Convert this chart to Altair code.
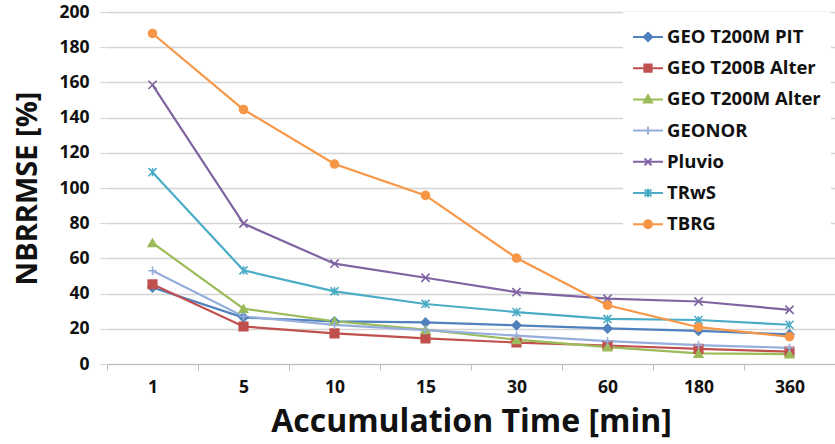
import altair as alt
import pandas as pd

# ---- data ----
times = ["1", "5", "10", "15", "30", "60", "180", "360"]
series = ["GEO T200M PIT", "GEO T200B Alter", "GEO T200M Alter", "GEONOR", "Pluvio", "TRwS", "TBRG"]

geo_t200m_pit = [43.5, 26.4, 24.2, 23.6, 22.0, 20.2, 18.8, 16.8]
geo_t200b_alter = [45.3, 21.3, 17.4, 14.6, 12.2, 10.5, 8.6, 7.0]
geo_t200m_alter = [68.8, 31.4, 24.3, 19.5, 13.8, 9.6, 6.0, 5.6]
geonor = [53.0, 27.0, 22.2, 19.3, 16.1, 13.0, 10.7, 9.2]
pluvio = [158.6, 79.8, 57.0, 49.0, 40.8, 37.1, 35.5, 30.8]
trws = [109.0, 53.2, 41.3, 34.1, 29.5, 25.6, 25.0, 22.3]
tbrg = [187.8, 144.6, 113.6, 95.8, 60.2, 33.4, 20.9, 15.5]

values = [geo_t200m_pit, geo_t200b_alter, geo_t200m_alter, geonor, pluvio, trws, tbrg]

colors = ["#4F81BD", "#C0504D", "#9BBB59", "#95AEDC", "#8064A2", "#4BACC6", "#F79646"]

# marker shapes on the plot
marker_shapes = [
    "diamond",
    "square",
    "triangle-up",
    "M-1,0L1,0M0,-1L0,1",
    "M-1,-1L1,1M-1,1L1,-1",
    "M-1,-1L1,1M-1,1L1,-1M0,-1L0,1",
    "circle",
]
marker_sizes = [75, 64, 75, 70, 90, 90, 85]

# legend symbols: a line with the marker on it
legend_shapes = [
    "M-1,0L1,0M0,-0.28L0.28,0L0,0.28L-0.28,0Z",
    "M-1,0L1,0M-0.24,-0.24L0.24,-0.24L0.24,0.24L-0.24,0.24Z",
    "M-1,0L1,0M0,-0.28L0.28,0.2L-0.28,0.2Z",
    "M-1,0L1,0M0,-0.26L0,0.26",
    "M-1,0L1,0M-0.23,-0.23L0.23,0.23M-0.23,0.23L0.23,-0.23",
    "M-1,0L1,0M-0.23,-0.23L0.23,0.23M-0.23,0.23L0.23,-0.23M0,-0.28L0,0.28",
    "M-1,0L1,0M0.27,0A0.27,0.27 0 1,1 -0.27,0A0.27,0.27 0 1,1 0.27,0Z",
]

rows = []
for name, vals in zip(series, values):
    for t, v in zip(times, vals):
        rows.append({"series": name, "time": t, "value": v})
df = pd.DataFrame(rows)

FONT = "Open Sans"
GRID = "#D4D4D4"
TEXT = "#111111"

x_enc = alt.X(
    "time:N",
    sort=times,
    scale=alt.Scale(type="band", paddingInner=0, paddingOuter=0),
    axis=alt.Axis(
        title="Accumulation Time [min]",
        titleFont=FONT,
        titleFontSize=32,
        titleFontWeight="bold",
        titleColor=TEXT,
        titlePadding=11,
        labelFont=FONT,
        labelFontSize=17.5,
        labelFontWeight="bold",
        labelColor=TEXT,
        labelAngle=0,
        labelPadding=8,
        domain=True,
        domainColor="#BFBFBF",
        domainWidth=1.2,
        ticks=True,
        tickBand="extent",
        tickColor="#BFBFBF",
        tickSize=6,
        grid=False,
    ),
)

y_enc = alt.Y(
    "value:Q",
    scale=alt.Scale(domain=[0, 200], nice=False, zero=True),
    axis=alt.Axis(
        values=list(range(0, 201, 20)),
        title="NBRRMSE [%]",
        titleFont=FONT,
        titleFontSize=29,
        titleFontWeight="bold",
        titleColor=TEXT,
        titlePadding=16,
        labelFont=FONT,
        labelFontSize=17.5,
        labelFontWeight="bold",
        labelColor=TEXT,
        labelPadding=11,
        domain=False,
        ticks=True,
        tickColor=GRID,
        tickSize=7,
        grid=True,
        gridColor=GRID,
        gridWidth=1.3,
    ),
)

base = alt.Chart(df).encode(x=x_enc, y=y_enc)

lines = base.mark_line(strokeWidth=2.2, interpolate="linear").encode(
    color=alt.Color("series:N", scale=alt.Scale(domain=series, range=colors), legend=None)
)

points = base.mark_point(filled=True, strokeWidth=1.6, opacity=1).encode(
    color=alt.Color("series:N", scale=alt.Scale(domain=series, range=colors), legend=None),
    stroke=alt.Stroke("series:N", scale=alt.Scale(domain=series, range=colors), legend=None),
    shape=alt.Shape("series:N", scale=alt.Scale(domain=series, range=marker_shapes), legend=None),
    size=alt.Size("series:N", scale=alt.Scale(domain=series, range=marker_sizes), legend=None),
)

legend_props = dict(
    title=None,
    orient="none",
    legendX=516,
    legendY=0,
    padding=9,
    fillColor="white",
    strokeColor="white",
    rowPadding=5.2,
    symbolSize=900,
    symbolStrokeWidth=2,
    labelFont=FONT,
    labelFontSize=18.5,
    labelFontWeight="bold",
    labelColor=TEXT,
    labelOffset=3,
    labelLimit=400,
    labelExpr="datum.label + '\u00a0\u00a0\u00a0\u00a0\u00a0\u00a0'",
)

legend_layer = (
    alt.Chart(df)
    .transform_filter("false")
    .mark_point(filled=True, strokeWidth=2, opacity=1)
    .encode(
        x=x_enc,
        y=y_enc,
        color=alt.Color("series:N", scale=alt.Scale(domain=series, range=colors),
                        legend=alt.Legend(**legend_props)),
        stroke=alt.Stroke("series:N", scale=alt.Scale(domain=series, range=colors),
                          legend=alt.Legend(**legend_props)),
        shape=alt.Shape("series:N", scale=alt.Scale(domain=series, range=legend_shapes),
                        legend=alt.Legend(**legend_props)),
    )
)

chart = (
    alt.layer(lines, points, legend_layer)
    .resolve_scale(color="independent", shape="independent", stroke="independent", size="independent")
    .properties(
        width=728,
        height=352,
        autosize=alt.AutoSizeParams(type="none"),
        padding={"left": 107, "top": 12, "right": 0, "bottom": 80},
        background="white",
    )
    .configure_view(stroke=None)
)

chart.save("out.html", embed_options={"renderer": "svg", "actions": False})
